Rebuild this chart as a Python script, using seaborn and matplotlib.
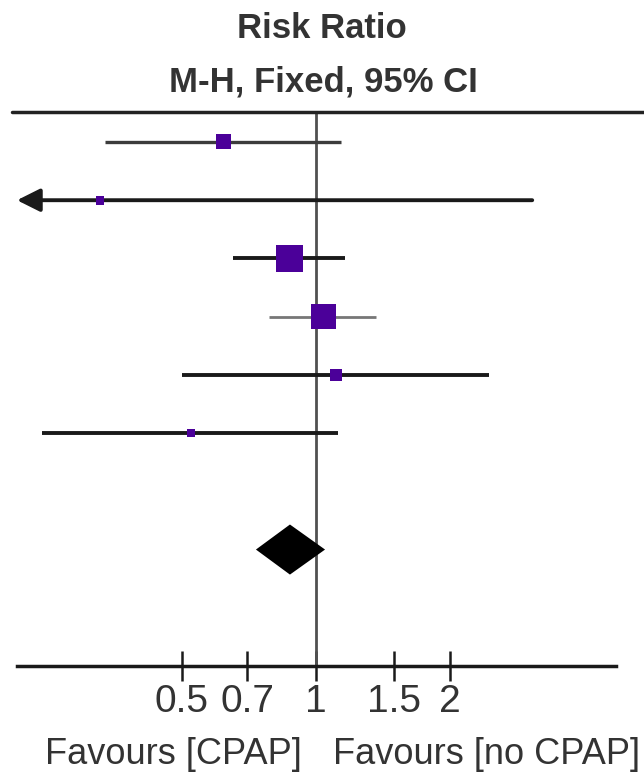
import numpy as np
import pandas as pd
import seaborn as sns
import matplotlib.pyplot as plt
from matplotlib.lines import Line2D

# individual studies, top to bottom (risk ratio and 95% CI)
rr = [0.62, 0.327, 0.874, 1.04, 1.11, 0.524]
ci_lo = [0.336, 0.05, 0.651, 0.784, 0.50, 0.242]
ci_hi = [1.14, 3.06, 1.16, 1.364, 2.45, 1.12]
weight = [12, 4, 39, 33, 8, 4]
rows = [0, 1, 2, 3, 4, 5]

# pooled estimate (diamond)
pooled_rr = 0.874
pooled_lo = 0.733
pooled_hi = 1.048
pooled_row = 7

ticks = [0.5, 0.7, 1, 1.5, 2]
tick_labels = ['0.5', '0.7', '1', '1.5', '2']
xmin, xmax = 0.213, 4.72

sns.set_theme(style='white')
plt.rcParams['font.family'] = ['Liberation Sans', 'DejaVu Sans']

df = pd.DataFrame({'rr': rr, 'lo': ci_lo, 'hi': ci_hi, 'w': weight, 'row': rows})

W, H = 644, 781
fig = plt.figure(figsize=(W / 100, H / 100), dpi=100)
ax = fig.add_axes([17 / W, (H - 666) / H, (616 - 17) / W, (666 - 112) / H])
ax.set_xscale('log')
ax.set_xlim(xmin, xmax)
ax.set_ylim(9.0, -0.515)

ax.axvline(1, color='#505050', lw=2, zorder=1)

line_cols = ['#3c3c3c', 'k', 'k', '#777777', 'k', 'k']
line_w = [2.4, 2.8, 2.8, 2.0, 2.8, 2.8]
for i, r in df.iterrows():
    if r['lo'] < xmin:
        ax.annotate('', xy=(xmin, r['row']), xytext=(r['hi'], r['row']),
                    arrowprops=dict(arrowstyle='-|>,head_length=0.7,head_width=0.35',
                                    lw=line_w[i], color=line_cols[i],
                                    shrinkA=0, shrinkB=0, mutation_scale=20),
                    zorder=2, annotation_clip=False)
    else:
        ax.hlines(r['row'], r['lo'], r['hi'], color=line_cols[i], lw=line_w[i], zorder=2)

sns.scatterplot(data=df, x='rr', y='row', size='w', sizes=(38.8, 378), marker='s',
                color='#4b0099', linewidth=0, legend=False, zorder=3, ax=ax)

ax.fill([pooled_lo, pooled_rr, pooled_hi, pooled_rr],
        [pooled_row, pooled_row - 0.43, pooled_row, pooled_row + 0.43],
        color='black', lw=0, zorder=3)

ax.set_xticks(ticks)
ax.set_xticklabels(tick_labels)
ax.minorticks_off()
ax.set_yticks([])
ax.set_xlabel('')
ax.set_ylabel('')
ax.tick_params(axis='x', which='major', bottom=True, direction='inout', length=22,
               width=1.8, color='#1a1a1a', labelsize=28, labelcolor='#333333', pad=2)
for s in ['top', 'left', 'right']:
    ax.spines[s].set_visible(False)
ax.spines['bottom'].set_linewidth(2.5)
ax.spines['bottom'].set_color('#1a1a1a')

fig.add_artist(Line2D([12 / W, 1], [(H - 112) / H] * 2, color='#222222', lw=2.5))

fig.text(322 / W, 1 - 28 / H, 'Risk Ratio', ha='center', va='center',
         fontsize=25, fontweight='bold', color='#333333')
fig.text(323 / W, 1 - 82 / H, 'M-H, Fixed, 95% CI', ha='center', va='center',
         fontsize=25, fontweight='bold', color='#333333')
fig.text(173 / W, 1 - 754 / H, 'Favours [CPAP]', ha='center', va='center',
         fontsize=26, color='#333333')
fig.text(487 / W, 1 - 754 / H, 'Favours [no CPAP]', ha='center', va='center',
         fontsize=26, color='#333333')

fig.savefig('out.png', dpi=100)
